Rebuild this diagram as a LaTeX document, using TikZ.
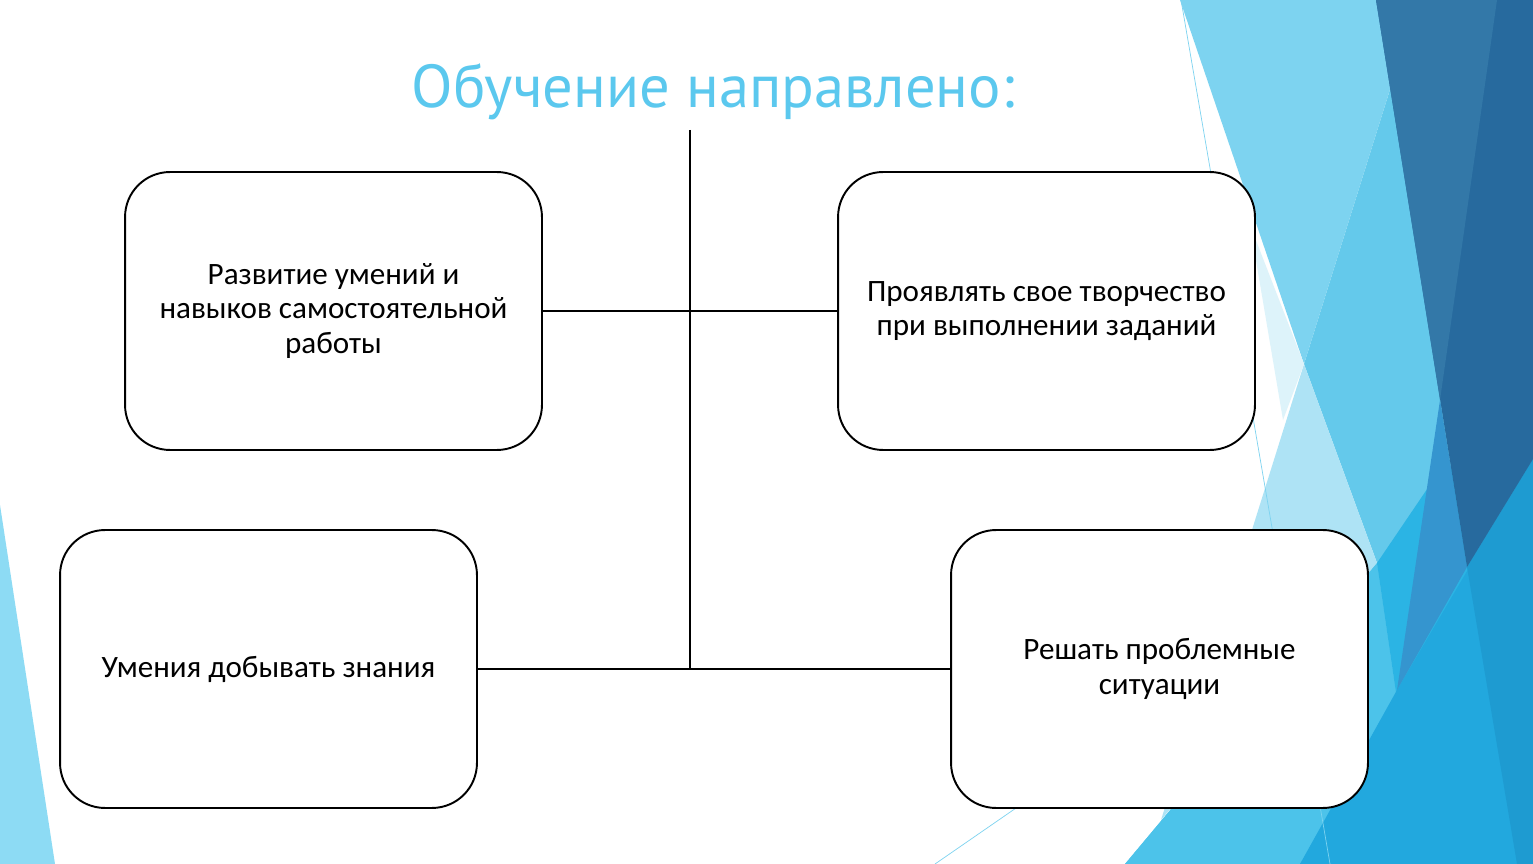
\documentclass[tikz,border=0pt]{standalone}
\usepackage{fontspec}
\setmainfont{Carlito}
\newfontfamily\titlefont{PT Sans}

\definecolor{titleblue}{HTML}{5BC8EE}
\definecolor{facetlight}{HTML}{7DD3F0}
\definecolor{facetpale}{HTML}{DDF3FA}
\definecolor{facetpaler}{HTML}{AEE3F5}
\definecolor{facetcyan}{HTML}{64C9EB}
\definecolor{facetsky}{HTML}{4CC3EA}
\definecolor{facetbright}{HTML}{2BB4E4}
\definecolor{facetblue}{HTML}{22A8DE}
\definecolor{facetmid}{HTML}{3595CF}
\definecolor{facetdeep}{HTML}{1E9BD1}
\definecolor{facetdark}{HTML}{276A9E}
\definecolor{facetsteel}{HTML}{3378A8}
\definecolor{facetstrip}{HTML}{8DDBF4}

\newcommand\facet[2]{\fill[#2] #1 -- cycle;}

\begin{document}
\begin{tikzpicture}[x=0.02cm, y=-0.02cm,
    box/.style={draw, line width=1.1pt, rounded corners=0.9cm, fill=white,
      minimum width=8.34cm, minimum height=5.56cm, align=center,
      font=\fontsize{17.7}{19.6}\selectfont},
    link/.style={line width=0.8pt}]
    \useasboundingbox (0,0) rectangle (1533,864);
    \fill[white] (0,0) rectangle (1533,864);

    % background facets, right side
    \facet{(1418,0) -- (1533,0) -- (1533,864) -- (1125,864) -- (1377,563) -- (1304,364)}{facetcyan}
    \facet{(1180,0) -- (1418,0) -- (1304,364)}{facetlight}
    \facet{(1304,364) -- (1377,563) -- (1161,820)}{facetpaler}
    \facet{(1250,225) -- (1304,364) -- (1283,420)}{facetpale}
    \facet{(1125,864) -- (1377,563) -- (1400,720) -- (1300,864)}{facetsky}
    \facet{(1377,563) -- (1440,470) -- (1533,459) -- (1533,864) -- (1300,864) -- (1400,720)}{facetbright}
    \facet{(1397,690) -- (1533,459) -- (1533,864) -- (1300,864)}{facetblue}
    \facet{(1440,400) -- (1467,567) -- (1397,690)}{facetmid}
    \facet{(1467,567) -- (1533,459) -- (1533,864) -- (1517,864)}{facetdeep}
    \facet{(1376,0) -- (1533,0) -- (1533,459) -- (1467,567)}{facetdark}
    \facet{(1376,0) -- (1497,0) -- (1440,400)}{facetsteel}
    % thin lines
    \draw[facetlight, line width=0.4pt] (1181,0) -- (1330,864);
    \draw[facetlight, line width=0.4pt] (935,864) -- (1100,750);
    % left strip
    \facet{(0,505) -- (55,864) -- (0,864)}{facetstrip}

    % title
    \node[text=titleblue, font=\titlefont\fontsize{34.5}{34.5}\selectfont] (title) at (713,92) {Обучение направлено:};

    % boxes
    \node[box] (razv) at (333.5,311) {Развитие умений и\\навыков самостоятельной\\работы};
    \node[box] (tvor) at (1046.5,311) {Проявлять свое творчество\\при выполнении заданий};
    \node[box] (znan) at (268.5,669) {Умения добывать знания};
    \node[box] (resh) at (1159.5,669) {Решать проблемные\\ситуации};

    % connectors
    \coordinate (trunktop) at (690,130);
    \draw[link] (trunktop) -- (trunktop |- znan.east);
    \draw[link] (razv.east) -- (tvor.west);
    \draw[link] (znan.east) -- (resh.west);
\end{tikzpicture}
\end{document}
